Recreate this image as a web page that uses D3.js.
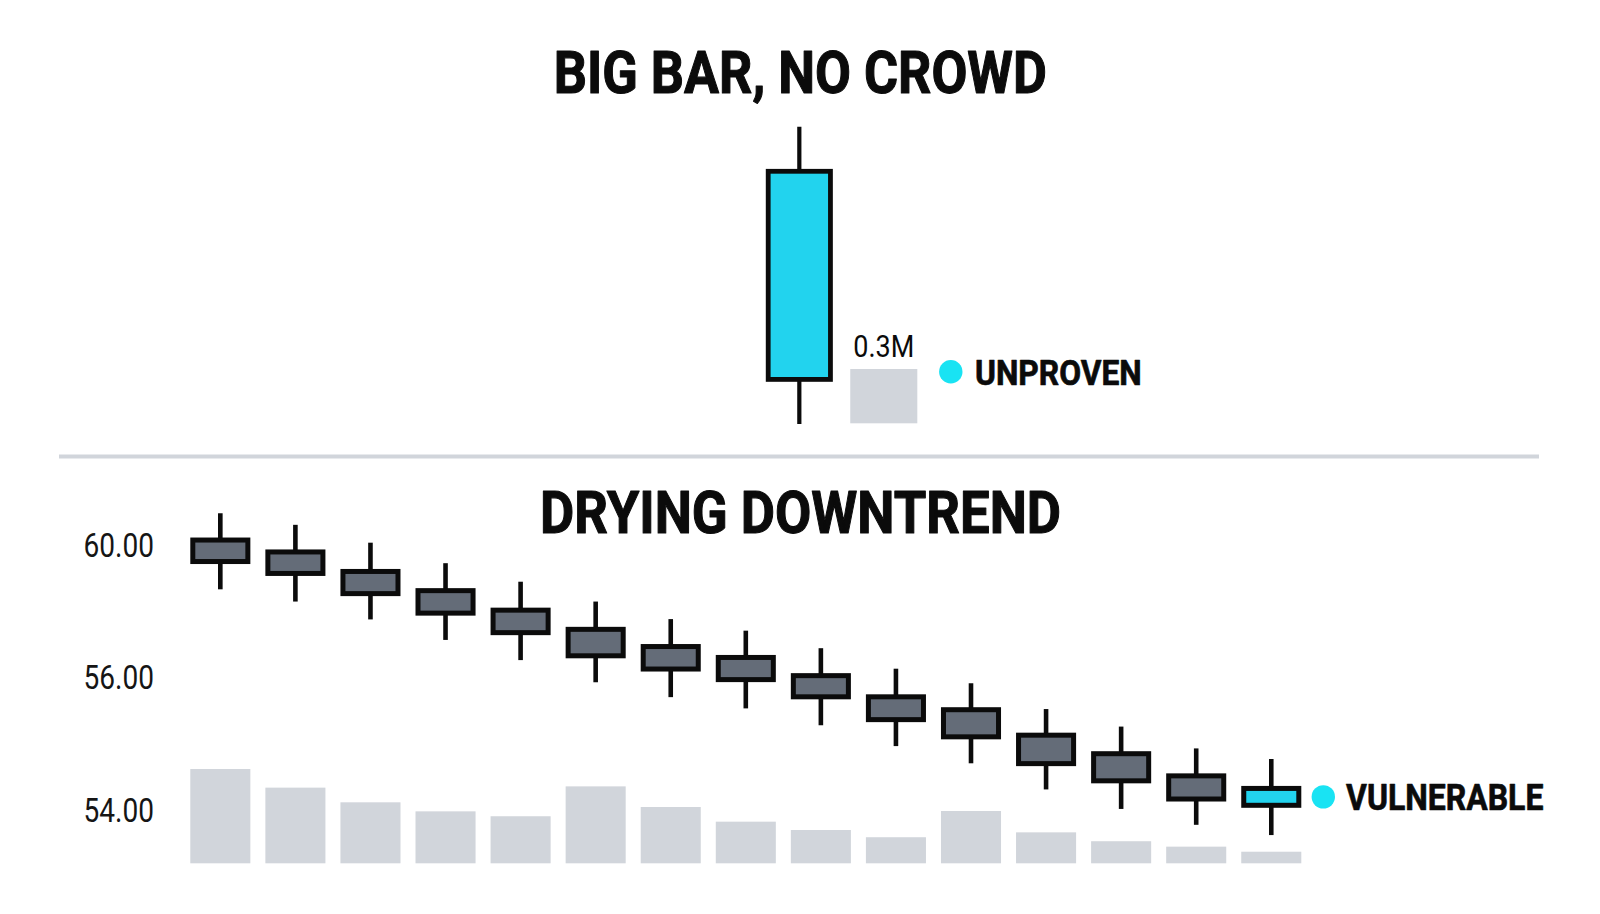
<!DOCTYPE html>
<html>
<head>
<meta charset="utf-8">
<script src="https://cdn.jsdelivr.net/npm/d3@7"></script>
<style>
  html, body { margin: 0; padding: 0; background: #ffffff; }
  svg { display: block; }
</style>
</head>
<body>
<svg id="chart" width="1600" height="914"></svg>
<script>
// ---------- DATA ----------
const topTitle = "BIG BAR, NO CROWD";
const bottomTitle = "DRYING DOWNTREND";

// Top panel: one big candle and its (small) volume
const topOpen = [51.5];
const topClose = [58.5];
const topHigh = [60.0];
const topLow = [50.0];
const topVolume = [0.3];          // millions
const topVolumeLabel = "0.3M";
const topTag = "UNPROVEN";

// Bottom panel: 15 sessions of a drying downtrend
const sessions = d3.range(1, 16);
const opens  = [60.15, 59.79, 59.20, 58.62, 58.03, 57.45, 56.93, 56.60, 56.05, 55.41, 55.02, 54.25, 53.69, 53.02, 52.13];
const closes = [59.50, 59.14, 58.53, 57.94, 57.35, 56.65, 56.25, 55.93, 55.41, 54.72, 54.20, 53.39, 52.87, 52.32, 52.64];
const highs  = [60.96, 60.61, 60.07, 59.45, 58.89, 58.29, 57.76, 57.41, 56.88, 56.26, 55.82, 55.04, 54.51, 53.85, 53.53];
const lows   = [58.66, 58.29, 57.75, 57.13, 56.52, 55.85, 55.40, 55.06, 54.55, 53.92, 53.40, 52.61, 52.02, 51.54, 51.23];
const volumes = [0.521, 0.418, 0.337, 0.287, 0.260, 0.425, 0.311, 0.230, 0.184, 0.144, 0.289, 0.171, 0.122, 0.092, 0.064]; // millions
const priceTickLabels = ["60.00", "56.00", "54.00"];
const bottomTag = "VULNERABLE";

// ---------- STYLE ----------
const INK = "#0b0b0b";
const BEAR = "#646c78";
const BULL = "#22d3ee";
const DOT = "#19e3f3";
const VOL = "#d1d5db";
const FONT = "Roboto, 'Liberation Sans', sans-serif";

const svg = d3.select("#chart");

function condensedText(sel, txt, x, y, size, weight, width, anchor, heavy) {
  const t = sel.append("text")
    .attr("x", x).attr("y", y)
    .attr("font-family", FONT)
    .attr("font-size", size)
    .attr("font-weight", weight)
    .attr("fill", INK)
    .attr("text-anchor", anchor || "start")
    .attr("textLength", width)
    .attr("lengthAdjust", "spacingAndGlyphs")
    .text(txt);
  if (heavy) t.attr("stroke", INK).attr("stroke-width", heavy).attr("stroke-linejoin", "round");
  return t;
}

// ---------- TOP PANEL ----------
const gTop = svg.append("g");
condensedText(gTop, topTitle, 800.3, 93.3, 59, 700, 493, "middle", 1.1);

const xTop = d3.scaleBand().domain(["price", "volume"]).range([765.8, 917.3]).paddingInner(0.206).paddingOuter(0);
const yTop = d3.scaleLinear().domain([50, 60]).range([424, 126.7]);
const vTop = d3.scaleLinear().domain([0, 1]).range([423.3, 242.3]);
const bwT = xTop.bandwidth();
const cxT = xTop("price") + bwT / 2;

gTop.append("line")
  .attr("x1", cxT).attr("x2", cxT)
  .attr("y1", yTop(topHigh[0])).attr("y2", yTop(topLow[0]))
  .attr("stroke", INK).attr("stroke-width", 4.2);
gTop.append("rect")
  .attr("x", xTop("price") + 2.4).attr("width", bwT - 4.8)
  .attr("y", yTop(Math.max(topOpen[0], topClose[0])))
  .attr("height", yTop(Math.min(topOpen[0], topClose[0])) - yTop(Math.max(topOpen[0], topClose[0])))
  .attr("fill", topClose[0] > topOpen[0] ? BULL : BEAR)
  .attr("stroke", INK).attr("stroke-width", 4.8);

gTop.append("rect")
  .attr("x", xTop("volume")).attr("width", bwT)
  .attr("y", vTop(topVolume[0])).attr("height", vTop(0) - vTop(topVolume[0]))
  .attr("fill", VOL);
condensedText(gTop, topVolumeLabel, xTop("volume") + bwT / 2, vTop(topVolume[0]) - 12.3, 30.5, 400, 61, "middle");

gTop.append("circle")
  .attr("cx", xTop("volume") + bwT + 33.5).attr("cy", 371.7).attr("r", 11.7)
  .attr("fill", DOT);
condensedText(gTop, topTag, 975, 385, 35, 700, 166.7, "start", 0.7);

// divider
svg.append("line")
  .attr("x1", 59).attr("x2", 1539).attr("y1", 456.5).attr("y2", 456.5)
  .attr("stroke", VOL).attr("stroke-width", 4);

// ---------- BOTTOM PANEL ----------
const gBot = svg.append("g");
condensedText(gBot, bottomTitle, 800.5, 533.3, 59, 700, 521, "middle", 1.1);

const x = d3.scaleBand().domain(sessions).range([190.3, 1301.3]).paddingInner(0.2).paddingOuter(0);
const y = d3.scaleLinear().domain([60, 56]).range([545, 677.3]);
const v = d3.scaleLinear().domain([0, 1]).range([863.3, 682.3]);
const tickPos = d3.scalePoint().domain(priceTickLabels).range([545, 810]);
const bw = x.bandwidth();

// y labels
gBot.selectAll("text.tick").data(priceTickLabels).join("text")
  .attr("class", "tick")
  .attr("x", 83.5).attr("y", d => tickPos(d))
  .attr("dy", "0.355em")
  .attr("font-family", FONT).attr("font-size", 33).attr("font-weight", 400)
  .attr("fill", "#151515")
  .attr("textLength", 70.5).attr("lengthAdjust", "spacingAndGlyphs")
  .text(d => d);

const rows = sessions.map((s, i) => ({ s, o: opens[i], c: closes[i], h: highs[i], l: lows[i], vol: volumes[i] }));

// volume bars
gBot.selectAll("rect.vol").data(rows).join("rect")
  .attr("class", "vol")
  .attr("x", d => x(d.s)).attr("width", bw)
  .attr("y", d => v(d.vol)).attr("height", d => v(0) - v(d.vol))
  .attr("fill", VOL);

// wicks
gBot.selectAll("line.wick").data(rows).join("line")
  .attr("class", "wick")
  .attr("x1", d => x(d.s) + bw / 2).attr("x2", d => x(d.s) + bw / 2)
  .attr("y1", d => y(d.h)).attr("y2", d => y(d.l))
  .attr("stroke", INK).attr("stroke-width", 4.6);

// bodies
gBot.selectAll("rect.body").data(rows).join("rect")
  .attr("class", "body")
  .attr("x", d => x(d.s) + 2.5).attr("width", bw - 5)
  .attr("y", d => y(Math.max(d.o, d.c)))
  .attr("height", d => y(Math.min(d.o, d.c)) - y(Math.max(d.o, d.c)))
  .attr("fill", d => d.c > d.o ? BULL : BEAR)
  .attr("stroke", INK).attr("stroke-width", 5);

const last = rows[rows.length - 1];
gBot.append("circle")
  .attr("cx", x(last.s) + bw + 22).attr("cy", y((last.o + last.c) / 2)).attr("r", 11.7)
  .attr("fill", DOT);
condensedText(gBot, bottomTag, 1346, 810, 37, 700, 197.4, "start", 0.7);
</script>
</body>
</html>
